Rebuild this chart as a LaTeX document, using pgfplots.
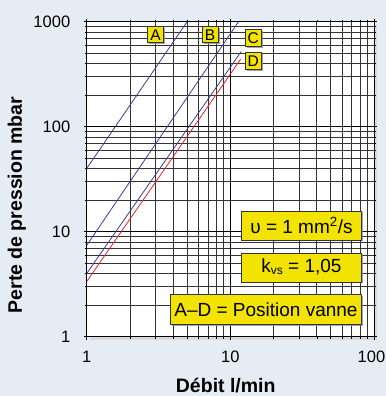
\documentclass[border=0pt]{standalone}
\usepackage{fontspec}
\setmainfont{Liberation Sans}
\usepackage{pgfplots}
\pgfplotsset{compat=1.18}
\usetikzlibrary{shadows}
\definecolor{bgblue}{RGB}{229,236,244}
\definecolor{lineblue}{RGB}{60,60,150}
\definecolor{linered}{RGB}{225,40,30}
\definecolor{boxyellow}{RGB}{242,228,0}
\tikzset{lbl/.style={fill=boxyellow, draw=black!80, line width=0.6bp, inner sep=0pt,
  drop shadow={shadow xshift=1.5bp, shadow yshift=-1.5bp, fill=black!45, opacity=0.8}}}
\begin{document}
\begin{tikzpicture}
\fill[bgblue] (0,0) rectangle (386bp,396bp);
\fill[black!15] (89.7bp,56.3bp) rectangle (377bp,371.3bp);
\begin{axis}[
  at={(86.7bp,59.3bp)}, anchor=south west,
  scale only axis, width=287.3bp, height=315bp,
  xmode=log, ymode=log,
  xmin=1, xmax=100, ymin=1, ymax=1000,
  xtick={1,10,100}, xticklabels={1,10,{\kern-5bp 100}},
  ytick={1,10,100,1000}, yticklabels={1,10,100,1000},
  grid=both,
  major grid style={black, line width=0.75bp},
  minor grid style={black!80, line width=0.7bp},
  axis line style={black, line width=0.9bp},
  tick align=outside,
  major tick length=3bp, minor tick length=2bp,
  tick style={black, line width=0.6bp},
  ticklabel style={font=\fontsize{16.5bp}{18bp}\selectfont},
  xticklabel style={yshift=-8bp},
  yticklabel style={xshift=-10bp},
  xlabel={Débit l/min}, ylabel={Perte de pression mbar},
  label style={font=\fontsize{19.5bp}{21bp}\selectfont\bfseries},
  xlabel style={at={(axis description cs:0.484,-0.1565)}, anchor=center},
  ylabel style={at={(axis description cs:-0.2436,0.418)}, anchor=center},
  axis background/.style={fill=white},
]
\addplot[lineblue, line width=0.8bp] coordinates {(1,40) (5,1000)};
\addplot[lineblue, line width=0.8bp] coordinates {(1,7.4) (11.4,1000)};
\addplot[lineblue, line width=0.8bp] coordinates {(1,4.0) (11.9,520)};
\addplot[linered, line width=0.8bp] coordinates {(1,3.35) (11.8,440)};

\node[lbl, minimum width=16bp, minimum height=16bp, font=\fontsize{15.5bp}{15bp}\selectfont] at (axis cs:3.01,752) {A};
\node[lbl, minimum width=16bp, minimum height=16bp, font=\fontsize{15.5bp}{15bp}\selectfont] at (axis cs:7.23,752) {B};
\node[lbl, minimum width=16bp, minimum height=17bp, font=\fontsize{15.5bp}{15bp}\selectfont] at (axis cs:14.4,698) {C};
\node[lbl, minimum width=16bp, minimum height=17bp, font=\fontsize{15.5bp}{15bp}\selectfont] at (axis cs:14.4,425) {D};

\node[lbl, anchor=east, minimum width=120bp, minimum height=29bp, font=\fontsize{19bp}{21bp}\selectfont] at (axis cs:82.2,11.5) {υ = 1 mm\textsuperscript{2}/s};
\node[lbl, anchor=east, minimum width=120bp, minimum height=29bp, font=\fontsize{19bp}{21bp}\selectfont] at (axis cs:82.2,4.58) {k\raisebox{-1.5bp}{\fontsize{12bp}{12bp}\selectfont vs} = 1,05};
\node[lbl, anchor=east, minimum width=191bp, minimum height=30bp, font=\fontsize{19bp}{21bp}\selectfont] at (axis cs:82.2,1.824) {A–D = Position vanne};
\end{axis}
\pgfresetboundingbox
\useasboundingbox (0,0) rectangle (386bp,396bp);
\end{tikzpicture}
\end{document}
